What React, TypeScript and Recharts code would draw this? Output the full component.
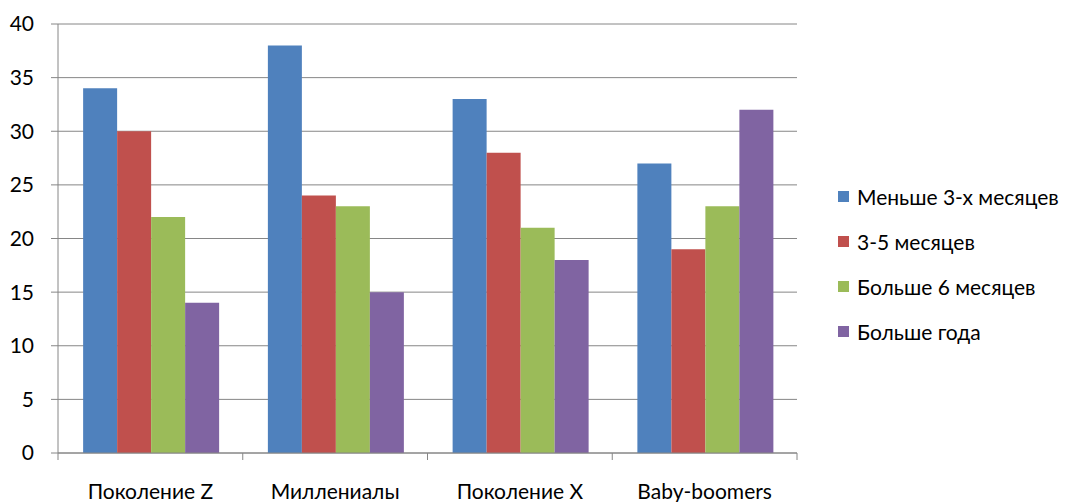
import React from 'react';
import { BarChart, Bar, XAxis, YAxis, CartesianGrid } from 'recharts';

const categories = ['Поколение Z', 'Миллениалы', 'Поколение X', 'Baby-boomers'];
const lessThan3Months = [34, 38, 33, 27];
const from3To5Months = [30, 24, 28, 19];
const moreThan6Months = [22, 23, 21, 23];
const moreThanYear = [14, 15, 18, 32];
const yTicks = [0, 5, 10, 15, 20, 25, 30, 35, 40];

const series = [
    { key: 'a', name: 'Меньше 3-х месяцев', color: '#4F81BD', values: lessThan3Months },
    { key: 'b', name: '3-5 месяцев', color: '#C0504D', values: from3To5Months },
    { key: 'c', name: 'Больше 6 месяцев', color: '#9BBB59', values: moreThan6Months },
    { key: 'd', name: 'Больше года', color: '#8064A2', values: moreThanYear },
];

const data = categories.map((name, i) => {
    const row: any = { name };
    series.forEach(s => { row[s.key] = s.values[i]; });
    return row;
});

const FONT = 'Lato, "Liberation Sans", sans-serif';
const FONT_SIZE = 21;
const AXIS_COLOR = '#868686';
const CHART_W = 1079;
const CHART_H = 502;
const MARGIN = { top: 24, right: 282, bottom: 0, left: 0 };
const Y_AXIS_W = 58;
const PLOT_W = CHART_W - MARGIN.left - MARGIN.right - Y_AXIS_W;

// category ticks sit on band borders, labels in the middle
const CategoryTick = ({ x, y, payload, index }: any) => {
    const band = PLOT_W / categories.length;
    const left = x - band / 2;
    return (
        <g>
            <line x1={left} x2={left} y1={y - 7} y2={y} stroke={AXIS_COLOR} />
            {index === categories.length - 1 && (
                <line x1={left + band} x2={left + band} y1={y - 7} y2={y} stroke={AXIS_COLOR} />
            )}
            <text x={x} y={y + 39} textAnchor="middle" fill="#000" fontSize={FONT_SIZE} fontFamily={FONT}>
                {payload.value}
            </text>
        </g>
    );
};

const ChartLegend = () => (
    <div style={{ position: 'absolute', left: 838, top: 174, fontFamily: FONT, fontSize: FONT_SIZE, color: '#000' }}>
        {series.map(s => (
            <div key={s.key} style={{ height: 45, display: 'flex', alignItems: 'center', whiteSpace: 'nowrap' }}>
                <span style={{ width: 11, height: 11, background: s.color, display: 'inline-block', marginRight: 8 }} />
                <span>{s.name}</span>
            </div>
        ))}
    </div>
);

export default function App() {
    return (
        <div style={{ position: 'absolute', left: 0, top: 0, width: CHART_W, height: CHART_H, background: '#fff' }}>
            <BarChart
                width={CHART_W}
                height={CHART_H}
                data={data}
                margin={MARGIN}
                barCategoryGap="13.6%"
                barGap={0}
            >
                <CartesianGrid vertical={false} stroke={AXIS_COLOR} />
                <XAxis
                    dataKey="name"
                    height={49}
                    axisLine={{ stroke: AXIS_COLOR }}
                    tickLine={false}
                    tickSize={7}
                    tickMargin={0}
                    interval={0}
                    tick={<CategoryTick />}
                />
                <YAxis
                    width={Y_AXIS_W}
                    domain={[0, 40]}
                    ticks={yTicks}
                    interval={0}
                    axisLine={{ stroke: AXIS_COLOR }}
                    tickLine={{ stroke: AXIS_COLOR }}
                    tickSize={7}
                    tickMargin={17}
                    tick={{ fill: '#000', fontSize: FONT_SIZE, fontFamily: FONT }}
                />
                {series.map(s => (
                    <Bar key={s.key} dataKey={s.key} name={s.name} fill={s.color} isAnimationActive={false} />
                ))}
            </BarChart>
            <ChartLegend />
        </div>
    );
}
